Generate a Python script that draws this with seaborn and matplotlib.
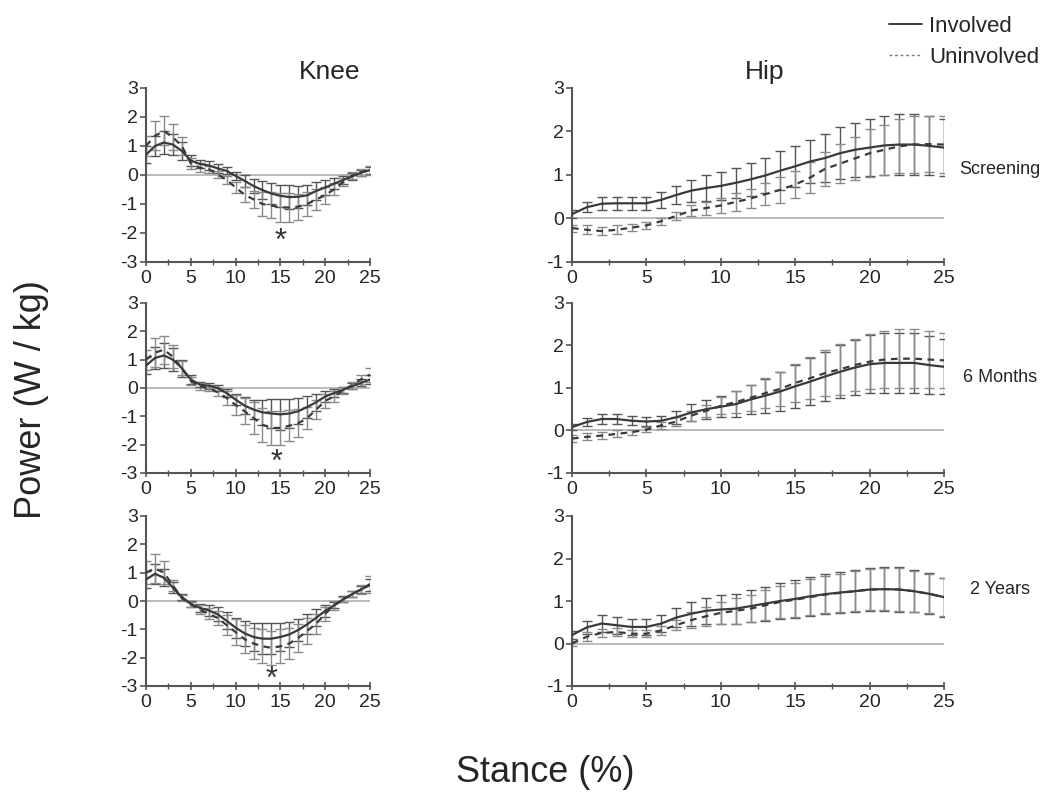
import numpy as np
import pandas as pd
import seaborn as sns
import matplotlib.pyplot as plt
from matplotlib.lines import Line2D
from matplotlib.ticker import MultipleLocator

# stance axis (percent of stance, 0..25)
stance = list(range(26))
sides = ['Involved', 'Uninvolved']
visits = ['Screening', '6 Months', '2 Years']
joints = ['Knee', 'Hip']

# ---- knee, screening
knee_scr_inv = [0.7, 1.0, 1.12, 1.05, 0.83, 0.5, 0.38, 0.33, 0.23, 0.14, -0.03, -0.2, -0.38, -0.52, -0.64, -0.72,
                -0.76, -0.75, -0.7, -0.55, -0.43, -0.3, -0.17, -0.05, 0.08, 0.17]
knee_scr_inv_sd = [0.3, 0.35, 0.4, 0.35, 0.3, 0.2, 0.15, 0.15, 0.15, 0.12, 0.15, 0.2, 0.25, 0.3, 0.35, 0.38,
                   0.4, 0.38, 0.35, 0.3, 0.25, 0.2, 0.15, 0.12, 0.1, 0.12]
knee_scr_uni = [1.0, 1.35, 1.52, 1.3, 1.0, 0.4, 0.25, 0.2, 0.02, -0.17, -0.43, -0.68, -0.84, -1.0, -1.05, -1.12,
                -1.12, -1.09, -1.0, -0.84, -0.7, -0.49, -0.24, -0.02, 0.1, 0.15]
knee_scr_uni_sd = [0.35, 0.5, 0.5, 0.45, 0.3, 0.2, 0.15, 0.12, 0.12, 0.15, 0.2, 0.25, 0.3, 0.4, 0.45, 0.5,
                   0.5, 0.45, 0.4, 0.35, 0.3, 0.2, 0.15, 0.12, 0.12, 0.15]

# ---- knee, 6 months
knee_6m_inv = [0.79, 1.06, 1.15, 1.0, 0.7, 0.3, 0.12, 0.08, 0.0, -0.18, -0.41, -0.62, -0.76, -0.86, -0.9, -0.93,
               -0.9, -0.82, -0.67, -0.5, -0.3, -0.18, -0.06, 0.06, 0.18, 0.3]
knee_6m_inv_sd = [0.3, 0.4, 0.45, 0.4, 0.3, 0.15, 0.1, 0.1, 0.1, 0.15, 0.2, 0.3, 0.35, 0.45, 0.5, 0.55,
                  0.5, 0.45, 0.4, 0.3, 0.2, 0.15, 0.1, 0.1, 0.12, 0.15]
knee_6m_uni = [1.0, 1.25, 1.35, 1.1, 0.7, 0.25, 0.05, 0.0, -0.15, -0.35, -0.6, -0.82, -1.06, -1.3, -1.41, -1.41,
               -1.33, -1.24, -1.06, -0.76, -0.45, -0.3, -0.08, 0.1, 0.3, 0.47]
knee_6m_uni_sd = [0.35, 0.5, 0.5, 0.4, 0.25, 0.15, 0.12, 0.12, 0.15, 0.25, 0.35, 0.45, 0.55, 0.6, 0.6, 0.6,
                  0.55, 0.5, 0.4, 0.35, 0.25, 0.2, 0.12, 0.12, 0.15, 0.25]

# ---- knee, 2 years
knee_2y_inv = [0.76, 0.96, 0.82, 0.47, 0.14, -0.1, -0.24, -0.33, -0.47, -0.7, -0.94, -1.14, -1.27, -1.33, -1.33,
               -1.27, -1.18, -1.02, -0.82, -0.59, -0.35, -0.15, 0.06, 0.24, 0.41, 0.56]
knee_2y_inv_sd = [0.3, 0.35, 0.3, 0.2, 0.1, 0.1, 0.15, 0.2, 0.25, 0.3, 0.35, 0.45, 0.5, 0.55, 0.55, 0.5,
                  0.45, 0.4, 0.35, 0.3, 0.2, 0.1, 0.1, 0.1, 0.12, 0.2]
knee_2y_uni = [1.0, 1.15, 1.0, 0.55, 0.1, -0.12, -0.3, -0.45, -0.6, -0.85, -1.1, -1.35, -1.5, -1.6, -1.65, -1.6,
               -1.5, -1.3, -1.05, -0.8, -0.45, -0.15, 0.05, 0.25, 0.4, 0.6]
knee_2y_uni_sd = [0.4, 0.5, 0.4, 0.2, 0.1, 0.1, 0.15, 0.2, 0.25, 0.35, 0.45, 0.5, 0.55, 0.6, 0.6, 0.6,
                  0.55, 0.5, 0.45, 0.35, 0.25, 0.15, 0.1, 0.12, 0.15, 0.3]

# ---- hip, screening
hip_scr_inv = [0.1, 0.26, 0.34, 0.35, 0.35, 0.35, 0.43, 0.54, 0.64, 0.7, 0.75, 0.82, 0.9, 0.99, 1.1, 1.2,
               1.31, 1.39, 1.5, 1.58, 1.63, 1.68, 1.7, 1.7, 1.67, 1.63]
hip_scr_inv_sd = [0.1, 0.12, 0.15, 0.15, 0.15, 0.15, 0.18, 0.2, 0.25, 0.3, 0.32, 0.35, 0.38, 0.4, 0.45, 0.47,
                  0.5, 0.55, 0.6, 0.62, 0.65, 0.68, 0.7, 0.7, 0.68, 0.65]
hip_scr_uni = [-0.22, -0.26, -0.29, -0.26, -0.21, -0.16, -0.06, 0.06, 0.18, 0.24, 0.3, 0.38, 0.46, 0.56, 0.66,
               0.78, 0.94, 1.14, 1.26, 1.38, 1.5, 1.58, 1.66, 1.7, 1.71, 1.7]
hip_scr_uni_sd = [0.08, 0.1, 0.1, 0.1, 0.08, 0.08, 0.08, 0.1, 0.12, 0.15, 0.18, 0.2, 0.22, 0.25, 0.3, 0.32,
                  0.35, 0.4, 0.45, 0.5, 0.55, 0.58, 0.62, 0.65, 0.65, 0.65]

# ---- hip, 6 months
hip_6m_inv = [0.08, 0.2, 0.27, 0.27, 0.23, 0.21, 0.23, 0.31, 0.42, 0.5, 0.56, 0.62, 0.73, 0.82, 0.92, 1.04,
              1.15, 1.27, 1.38, 1.48, 1.56, 1.59, 1.59, 1.59, 1.54, 1.5]
hip_6m_inv_sd = [0.08, 0.1, 0.12, 0.12, 0.1, 0.1, 0.12, 0.15, 0.2, 0.22, 0.25, 0.3, 0.35, 0.4, 0.45, 0.5,
                 0.55, 0.58, 0.62, 0.65, 0.68, 0.7, 0.7, 0.7, 0.68, 0.65]
hip_6m_uni = [-0.19, -0.15, -0.12, -0.08, -0.04, 0.02, 0.12, 0.21, 0.35, 0.46, 0.58, 0.67, 0.77, 0.88, 0.98,
              1.12, 1.23, 1.35, 1.44, 1.54, 1.62, 1.67, 1.69, 1.69, 1.67, 1.65]
hip_6m_uni_sd = [0.08, 0.08, 0.08, 0.08, 0.06, 0.06, 0.08, 0.1, 0.12, 0.15, 0.2, 0.25, 0.3, 0.35, 0.4, 0.45,
                 0.5, 0.55, 0.6, 0.62, 0.65, 0.68, 0.7, 0.7, 0.68, 0.65]

# ---- hip, 2 years
hip_2y_inv = [0.2, 0.38, 0.47, 0.43, 0.39, 0.39, 0.47, 0.61, 0.7, 0.77, 0.8, 0.82, 0.88, 0.94, 1.0, 1.05,
              1.11, 1.16, 1.2, 1.23, 1.27, 1.28, 1.27, 1.23, 1.17, 1.09]
hip_2y_inv_sd = [0.1, 0.15, 0.2, 0.2, 0.18, 0.18, 0.2, 0.22, 0.28, 0.3, 0.33, 0.35, 0.38, 0.4, 0.42, 0.44,
                 0.46, 0.47, 0.48, 0.5, 0.51, 0.52, 0.52, 0.5, 0.48, 0.46]
hip_2y_uni = [0.0, 0.16, 0.25, 0.27, 0.23, 0.23, 0.31, 0.43, 0.55, 0.64, 0.72, 0.77, 0.82, 0.9, 0.98, 1.03,
              1.09, 1.15, 1.19, 1.23, 1.27, 1.28, 1.27, 1.23, 1.17, 1.09]
hip_2y_uni_sd = [0.05, 0.1, 0.1, 0.1, 0.08, 0.08, 0.1, 0.12, 0.18, 0.22, 0.25, 0.3, 0.32, 0.35, 0.38, 0.4,
                 0.42, 0.44, 0.45, 0.47, 0.48, 0.5, 0.5, 0.48, 0.46, 0.44]

# significance markers on knee panels: (stance, power)
star_pos = {'Screening': (15, -2.3), '6 Months': (14.6, -2.65), '2 Years': (14, -2.8)}

panels = {
    ('Knee', 'Screening'): (knee_scr_inv, knee_scr_inv_sd, knee_scr_uni, knee_scr_uni_sd),
    ('Knee', '6 Months'): (knee_6m_inv, knee_6m_inv_sd, knee_6m_uni, knee_6m_uni_sd),
    ('Knee', '2 Years'): (knee_2y_inv, knee_2y_inv_sd, knee_2y_uni, knee_2y_uni_sd),
    ('Hip', 'Screening'): (hip_scr_inv, hip_scr_inv_sd, hip_scr_uni, hip_scr_uni_sd),
    ('Hip', '6 Months'): (hip_6m_inv, hip_6m_inv_sd, hip_6m_uni, hip_6m_uni_sd),
    ('Hip', '2 Years'): (hip_2y_inv, hip_2y_inv_sd, hip_2y_uni, hip_2y_uni_sd),
}

rows = []
for (joint, visit), (inv, inv_sd, uni, uni_sd) in panels.items():
    for side, m, s in [('Involved', inv, inv_sd), ('Uninvolved', uni, uni_sd)]:
        for x, v, e in zip(stance, m, s):
            rows.append({'joint': joint, 'visit': visit, 'side': side, 'stance': x, 'power': v, 'sd': e})
df = pd.DataFrame(rows)

sns.set_style('ticks')
plt.rcParams['font.family'] = ['Liberation Sans', 'DejaVu Sans']
plt.rcParams['axes.unicode_minus'] = False

fig = plt.figure(figsize=(10.5, 8.09), dpi=100)

W, H = 1050, 809
col_px = {'Knee': (146, 224), 'Hip': (572, 372)}
row_px = {'Screening': (88, 262), '6 Months': (303, 473), '2 Years': (516, 686)}
ylims = {'Knee': (-3, 3), 'Hip': (-1, 3)}

line_col = '#3a3a3a'
err_col = {'Involved': '#555555', 'Uninvolved': '#8a8a8a'}

for joint in joints:
    for visit in visits:
        x0, w = col_px[joint]
        top, bot = row_px[visit]
        ax = fig.add_axes([x0 / W, 1 - bot / H, w / W, (bot - top) / H])
        sub = df[(df.joint == joint) & (df.visit == visit)]

        ax.axhline(0, color='#b0b0b0', lw=1.2, zorder=1)
        for side in sides:
            s = sub[sub.side == side]
            ax.errorbar(s.stance, s.power, yerr=s.sd, fmt='none', ecolor=err_col[side],
                        elinewidth=1.0, capsize=3.5, capthick=1.0,
                        ls='-' if side == 'Involved' else '--', zorder=2)
        sns.lineplot(data=sub, x='stance', y='power', style='side', style_order=sides,
                     dashes={'Involved': '', 'Uninvolved': (3, 2.5)},
                     color=line_col, lw=1.6, ax=ax, legend=False, zorder=3)

        ax.set_xlim(0, 25)
        ax.set_ylim(*ylims[joint])
        ax.xaxis.set_major_locator(MultipleLocator(5))
        ax.xaxis.set_minor_locator(MultipleLocator(2.5))
        ax.yaxis.set_major_locator(MultipleLocator(1))
        ax.set_xlabel('')
        ax.set_ylabel('')
        ax.tick_params(axis='x', which='major', direction='inout', length=6, width=1.2,
                       labelsize=14, pad=3, color='#555555')
        ax.tick_params(axis='x', which='minor', direction='inout', length=4, width=1.0, color='#555555')
        ax.tick_params(axis='y', direction='out', length=4, width=1.2, labelsize=14, pad=2,
                       color='#555555')
        for sp in ['top', 'right']:
            ax.spines[sp].set_visible(False)
        for sp in ['left', 'bottom']:
            ax.spines[sp].set_color('#555555')
            ax.spines[sp].set_linewidth(1.5)
        ax.patch.set_alpha(0)

        if joint == 'Knee':
            sx, sy = star_pos[visit]
            ax.text(sx, sy, '*', ha='center', va='center', fontsize=22, color='#333333')

fig.text(330 / W, 1 - 72 / H, 'Knee', ha='center', va='center', fontsize=19)
fig.text(765 / W, 1 - 72 / H, 'Hip', ha='center', va='center', fontsize=19)
for visit, y in [('Screening', 170), ('6 Months', 378), ('2 Years', 590)]:
    fig.text(1000 / W, 1 - y / H, visit, ha='center', va='center', fontsize=13)

fig.text(32 / W, 1 - 400 / H, 'Power (W / kg)', rotation=90, ha='center', va='center', fontsize=26)
fig.text(545 / W, 1 - 772 / H, 'Stance (%)', ha='center', va='center', fontsize=26)

handles = [Line2D([], [], color=line_col, lw=1.4),
           Line2D([], [], color='#777777', lw=1.0, ls=(0, (2, 2)))]
fig.legend(handles, sides, loc='upper left', bbox_to_anchor=(880 / W, 1 - 7 / H), frameon=False,
           fontsize=16, handlelength=1.5, handletextpad=0.3, labelspacing=0.45, borderaxespad=0)

fig.savefig('out.png', dpi=100, facecolor='white')
